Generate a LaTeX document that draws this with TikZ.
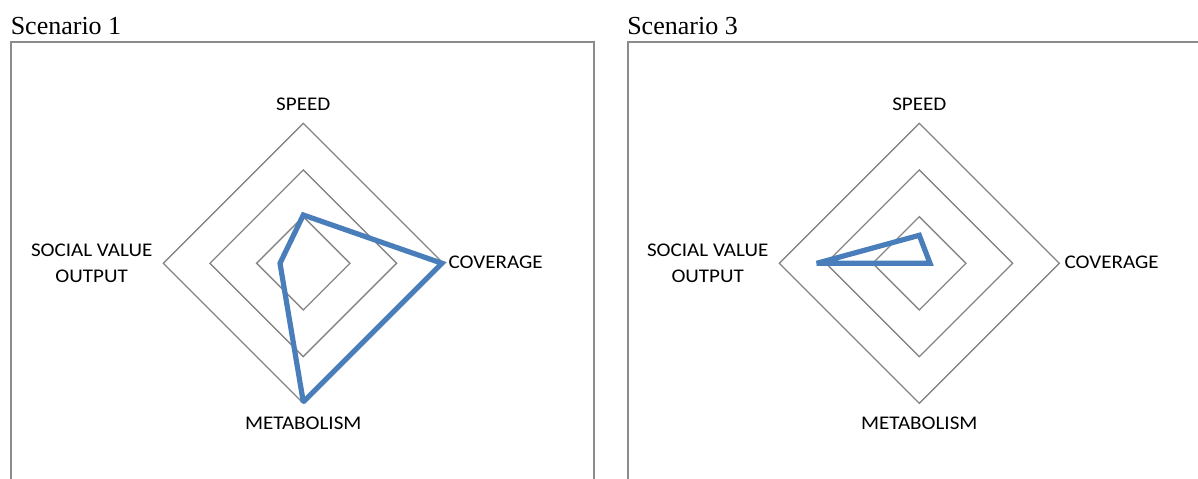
\documentclass[tikz,border=0pt]{standalone}
\usepackage{fontspec}
\setmainfont{Liberation Serif}
\newfontfamily\labelfont[FakeStretch=1.09]{Carlito}
\definecolor{framegray}{HTML}{8C8C8C}
\definecolor{gridgray}{HTML}{868686}
\definecolor{seriesblue}{HTML}{4A7EBB}
\begin{document}
\begin{tikzpicture}[x=0.75pt,y=-0.75pt,
  panelframe/.style={draw=framegray,line width=1.5pt},
  gridline/.style={draw=gridgray,line width=1pt},
  series/.style={draw=seriesblue,line width=3.9pt,line join=miter,miter limit=2},
  axislabel/.style={font=\labelfont\fontsize{14.5}{19.5}\selectfont,inner sep=0pt,align=center},
  paneltitle/.style={font=\fontsize{19.5}{23}\selectfont,inner sep=0pt,anchor=base west}]
\useasboundingbox (0,0) rectangle (1198,478);

% panel frames (open at the bottom)
\draw[panelframe] (11,479) -- (11,42.3) -- (594.3,42.3) -- (594.3,479);
\draw[panelframe] (627.7,479) -- (627.7,42.3) -- (1200,42.3);

\node[paneltitle] (t1) at (10.5,35) {Scenario 1};
\node[paneltitle] (t3) at (627,35) {Scenario 3};

% radar grid and axis labels, one scope per chart centre
\foreach \cx/\pre in {303.3/a, 919.3/b}{
  \begin{scope}[shift={(\cx,263.3)}]
    \foreach \r in {46.67,93.33,140}{
      \draw[gridline] (0,-\r) -- (\r,0) -- (0,\r) -- (-\r,0) -- cycle;
    }
    \node[axislabel,anchor=base] (\pre speed) at (0,-153.3) {SPEED};
    \node[axislabel,anchor=base west] (\pre cov) at (145,5) {COVERAGE};
    \node[axislabel,anchor=base] (\pre met) at (0,165.7) {METABOLISM};
    \node[axislabel,anchor=center] (\pre soc) at (-211.6,0) {SOCIAL VALUE\\OUTPUT};
  \end{scope}
}

% scenario 1 series
\coordinate (s1sp) at (303.3,215);
\coordinate (s1co) at (442,263.3);
\coordinate (s1me) at (303.3,402);
\coordinate (s1so) at (280,263.3);
\draw[series] (s1sp) -- (s1co) -- (s1me) -- (s1so) -- cycle;

% scenario 3 series
\coordinate (s3sp) at (919.3,235.3);
\coordinate (s3co) at (930,263.3);
\coordinate (s3me) at (919.3,263.3);
\coordinate (s3so) at (816.7,263.3);
\draw[series] (s3sp) -- (s3co) -- (s3me) -- (s3so) -- cycle;
\end{tikzpicture}
\end{document}
